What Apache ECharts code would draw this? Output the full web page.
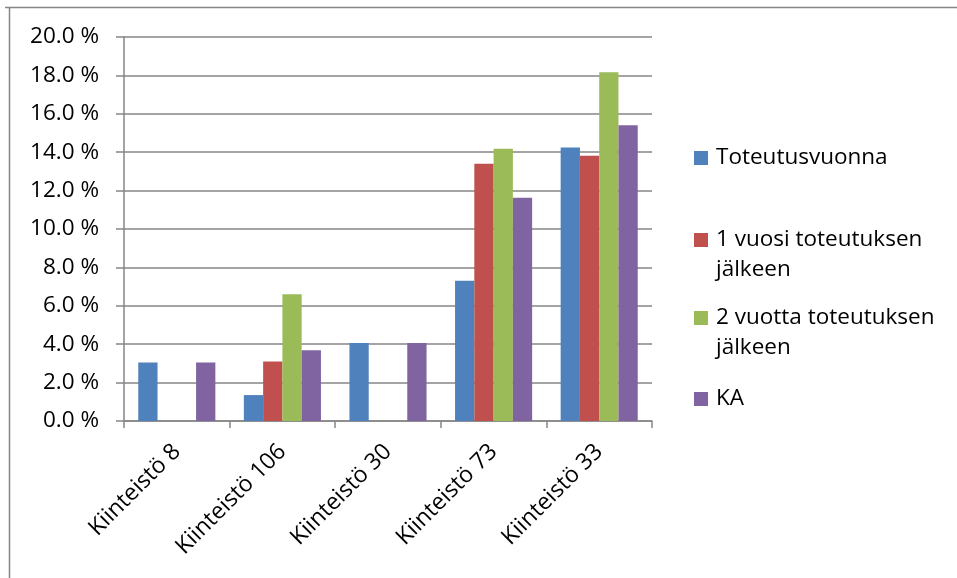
<!DOCTYPE html>
<html>
<head>
<meta charset="utf-8">
<script src="https://cdn.jsdelivr.net/npm/echarts@6/dist/echarts.min.js"></script>
<style>
  html, body { margin: 0; padding: 0; background: #fff; }
  #chart { width: 957px; height: 578px; }
</style>
</head>
<body>
<div id="chart"></div>
<script>
// Categories (properties) and the share per period, in percent
const categories = ['Kiinteistö 8', 'Kiinteistö 106', 'Kiinteistö 30', 'Kiinteistö 73', 'Kiinteistö 33'];
const seriesNames = ['Toteutusvuonna', '1 vuosi toteutuksen jälkeen', '2 vuotta toteutuksen jälkeen', 'KA'];
const legendFirstLines = ['Toteutusvuonna', '1 vuosi toteutuksen', '2 vuotta toteutuksen', 'KA'];
const legendSecondLines = ['', 'jälkeen', 'jälkeen', ''];
const toteutusvuonna = [3.05, 1.35, 4.06, 7.30, 14.25];
const vuosi1 = [null, 3.10, null, 13.40, 13.82];
const vuotta2 = [null, 6.60, null, 14.18, 18.16];
const ka = [3.05, 3.68, 4.06, 11.63, 15.41];
const colors = ['#4F81BD', '#C0504D', '#9BBB59', '#8064A2'];
const yTicks = { min: 0, max: 20, step: 2 };

const FONT = '"Open Sans", "Noto Sans", sans-serif';
const GRID_COLOR = '#868686';
const LEGEND_FONT = 22.5;

const values = [toteutusvuonna, vuosi1, vuotta2, ka];

// One legend block per series; wrapped names continue on a second text line
const legendIconCenters = [158, 240, 318, 399];
const LINE_H = 29.5;
const legends = seriesNames.map((name, i) => ({
  show: true,
  orient: 'vertical',
  left: 694,
  top: legendIconCenters[i] - LINE_H / 2,
  padding: 0,
  icon: 'rect',
  itemWidth: 14,
  itemHeight: 14,
  selectedMode: false,
  data: [name],
  formatter: () => legendFirstLines[i],
  textStyle: {
    fontFamily: FONT,
    fontSize: LEGEND_FONT,
    color: '#000',
    lineHeight: LINE_H,
    padding: [0, 0, 0, 3]
  }
}));

const continuationTexts = legendSecondLines
  .map((txt, i) => ({ txt, i }))
  .filter(d => d.txt)
  .map(d => ({
    type: 'text',
    left: 716,
    top: legendIconCenters[d.i] + LINE_H / 2,
    silent: true,
    style: {
      text: d.txt,
      fontFamily: FONT,
      fontSize: LEGEND_FONT,
      fill: '#000',
      lineHeight: LINE_H,
      verticalAlign: 'top'
    }
  }));

const chart = echarts.init(document.getElementById('chart'), null, { renderer: 'canvas' });
chart.setOption({
  backgroundColor: '#fff',
  animation: false,
  color: colors,
  grid: { left: 124, right: 305, top: 37, bottom: 157, containLabel: false },
  legend: legends,
  xAxis: {
    type: 'category',
    data: categories,
    boundaryGap: true,
    axisLine: { show: true, lineStyle: { color: GRID_COLOR, width: 1.5 } },
    axisTick: { show: true, alignWithLabel: false, length: 7, lineStyle: { color: GRID_COLOR, width: 1.5 } },
    axisLabel: {
      rotate: 45,
      margin: 27,
      interval: 0,
      fontFamily: FONT,
      fontSize: 23,
      color: '#000'
    },
    splitLine: { show: false }
  },
  yAxis: {
    type: 'value',
    min: yTicks.min,
    max: yTicks.max,
    interval: yTicks.step,
    axisLine: { show: true, lineStyle: { color: GRID_COLOR, width: 1.5 } },
    axisTick: { show: true, inside: false, length: 8, lineStyle: { color: GRID_COLOR, width: 1.5 } },
    axisLabel: {
      margin: 25,
      fontFamily: FONT,
      fontSize: 22.5,
      color: '#000',
      formatter: v => v.toFixed(1) + ' %'
    },
    splitLine: { show: true, lineStyle: { color: GRID_COLOR, width: 1.5 } }
  },
  series: seriesNames.map((name, i) => ({
    name: name,
    type: 'bar',
    data: values[i],
    barGap: '0%',
    barCategoryGap: '27%',
    itemStyle: { color: colors[i] }
  })),
  graphic: [
    // chart frame: left and top edges
    { type: 'line', shape: { x1: 9.5, y1: 7, x2: 9.5, y2: 578 }, style: { stroke: GRID_COLOR, lineWidth: 1.5 }, silent: true },
    { type: 'line', shape: { x1: 5, y1: 7.5, x2: 957, y2: 7.5 }, style: { stroke: GRID_COLOR, lineWidth: 1.5 }, silent: true }
  ].concat(continuationTexts)
});
</script>
</body>
</html>
